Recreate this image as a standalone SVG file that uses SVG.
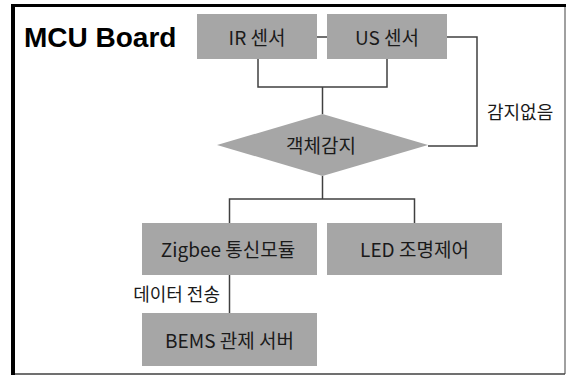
<svg xmlns="http://www.w3.org/2000/svg" width="566" height="376" viewBox="0 0 566 376">
<style>
.box{fill:#a6a6a6;}
.t{font-family:"Malgun Gothic","Noto Sans CJK KR",sans-serif;font-size:19px;fill:#1a1a1a;text-anchor:middle;dominant-baseline:central;}
.lbl{font-family:"Malgun Gothic","Noto Sans CJK KR",sans-serif;font-size:18px;fill:#1a1a1a;dominant-baseline:central;}
.c{fill:none;stroke:#404040;stroke-width:1.5;}
</style>
<rect x="0" y="0" width="566" height="376" fill="#ffffff"/>
<g id="frame">
<line x1="565" y1="5" x2="565" y2="374" stroke="#808080" stroke-width="1.5"/>
<line x1="13" y1="374" x2="565" y2="374" stroke="#404040" stroke-width="1.5"/>
<line x1="13" y1="4" x2="13" y2="375" stroke="#000" stroke-width="4"/>
<line x1="11" y1="5.5" x2="566" y2="5.5" stroke="#000" stroke-width="3"/>
<text x="24" y="47" font-family="'Liberation Sans',Arial,sans-serif" font-weight="bold" font-size="28" fill="#000">MCU Board</text>
</g>
<g id="connectors">
<line class="c" x1="317" y1="37" x2="327" y2="37"/>
<polyline class="c" points="258,59 258,87 387,87 387,59"/>
<line class="c" x1="322.5" y1="87" x2="322.5" y2="114"/>
<polyline class="c" points="447,37 477,37 477,146 428,146"/>
<line class="c" x1="322.5" y1="176" x2="322.5" y2="199"/>
<polyline class="c" points="229.5,223 229.5,199 414.5,199 414.5,223"/>
<line class="c" x1="229.5" y1="275" x2="229.5" y2="313"/>
<text class="lbl" x="487" y="111">감지없음</text>
<text class="lbl" x="220" y="293" text-anchor="end">데이터 전송</text>
</g>
<g id="ir">
<rect class="box" x="197" y="14" width="120" height="45"/>
<text class="t" x="257" y="36">IR 센서</text>
</g>
<g id="us">
<rect class="box" x="327" y="14" width="120" height="45"/>
<text class="t" x="387" y="36">US 센서</text>
</g>
<g id="detect">
<polygon class="box" points="322.5,114 428,145 322.5,176 217,145"/>
<text class="t" x="321" y="144" font-size="20">객체감지</text>
</g>
<g id="zigbee">
<rect class="box" x="142" y="223" width="175" height="52"/>
<text class="t" x="228" y="248">Zigbee 통신모듈</text>
</g>
<g id="led">
<rect class="box" x="327" y="223" width="175" height="52"/>
<text class="t" x="414.5" y="248">LED 조명제어</text>
</g>
<g id="bems">
<rect class="box" x="142" y="313" width="175" height="53"/>
<text class="t" x="229.5" y="339">BEMS 관제 서버</text>
</g>
</svg>
